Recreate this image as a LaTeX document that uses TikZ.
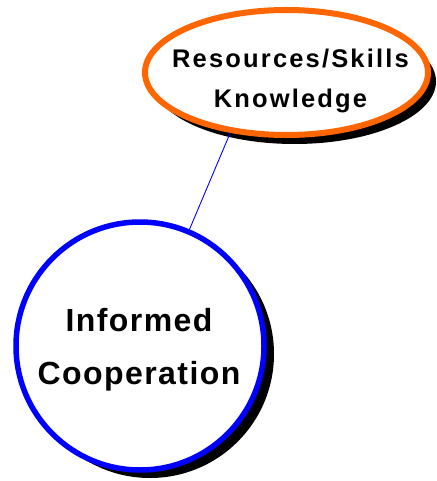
\documentclass[tikz,border=0pt]{standalone}
\usepackage{fontspec}
\setmainfont{Liberation Sans}
\newfontfamily\ovalfont[LetterSpace=8.5]{Liberation Sans}
\newfontfamily\roundfont[LetterSpace=4.5]{Liberation Sans}
\usetikzlibrary{shapes.geometric,shadows}

\definecolor{ovalorange}{RGB}{255,102,0}
\definecolor{roundblue}{RGB}{0,0,255}

\begin{document}
\begin{tikzpicture}[x=1pt,y=-1pt,
  oval/.style={ellipse,draw=ovalorange,line width=6pt,fill=white,
    minimum width=283pt,minimum height=125pt,inner sep=0pt,
    drop shadow={shadow xshift=8pt,shadow yshift=-9pt,opacity=1,fill=black}},
  round/.style={circle,draw=roundblue,line width=5.5pt,fill=white,
    minimum size=248pt,inner sep=0pt,
    drop shadow={shadow xshift=10pt,shadow yshift=-8pt,opacity=1,fill=black}},
  ovaltext/.style={align=center,font=\ovalfont\bfseries\fontsize{25.5}{40}\selectfont},
  roundtext/.style={align=center,font=\roundfont\bfseries\fontsize{32}{53}\selectfont}]
\useasboundingbox (0,0) rectangle (436,481);
% the two bubbles
\node[oval] (res) at (286.5,72.5) {};
\node[round] (coop) at (140,346) {};
\node[ovaltext] (restext) at (290.5,80.5) {Resources/Skills\\Knowledge};
\node[roundtext] (cooptext) at (139,350.2) {Informed\\Cooperation};
% link between them
\draw[roundblue,line width=0.9pt] (coop.67.7) -- (res.227.7);
\end{tikzpicture}
\end{document}
